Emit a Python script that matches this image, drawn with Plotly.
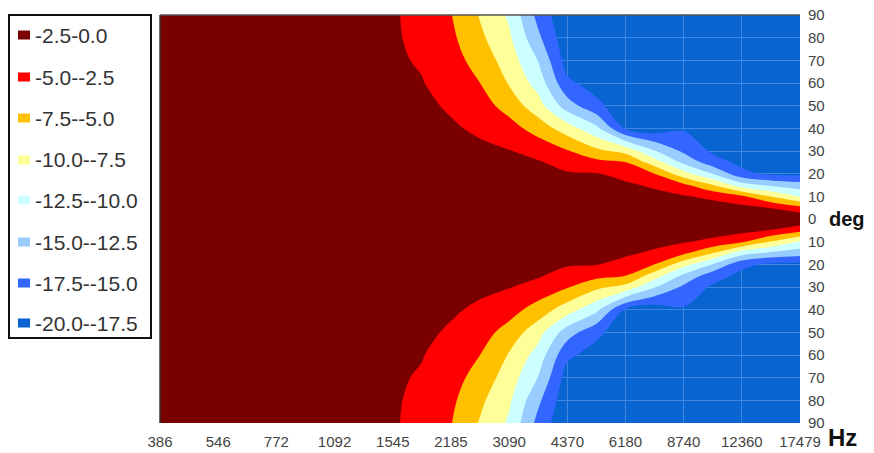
import plotly.graph_objects as go

# ---- data ----
freqs = [386, 546, 772, 1092, 1299, 1545, 1837, 2185, 2598, 3090, 3675,
         4370, 5197, 6180, 7350, 8740, 10394, 12360, 14698, 17479]
angles = [0, 5, 10, 15, 20, 25, 30, 40, 50, 60, 70, 80, 90]

# dB per frequency column, values listed for each angle in `angles`
col_386 = [0, -0.0, -0.1, -0.1, -0.2, -0.3, -0.4, -0.6, -0.8, -1.0, -1.2, -1.3, -1.4]
col_546 = [0, -0.1, -0.1, -0.2, -0.3, -0.4, -0.5, -0.7, -0.9, -1.1, -1.3, -1.5, -1.6]
col_772 = [0, -0.1, -0.2, -0.3, -0.4, -0.5, -0.6, -0.9, -1.1, -1.4, -1.6, -1.8, -1.9]
col_1092 = [0, -0.1, -0.2, -0.3, -0.5, -0.6, -0.8, -1.1, -1.4, -1.7, -1.9, -2.1, -2.2]
col_1299 = [0, -0.1, -0.2, -0.4, -0.6, -0.7, -0.9, -1.3, -1.6, -1.9, -2.1, -2.3, -2.4]
col_1545 = [0, -0.1, -0.2, -0.4, -0.6, -0.8, -1.0, -1.4, -1.7, -2.0, -2.2, -2.3, -2.3]
col_1837 = [0, -0.1, -0.3, -0.5, -0.7, -0.9, -1.1, -1.5, -2.0, -2.4, -2.7, -2.9, -3.1]
col_2185 = [0, -0.2, -0.4, -0.6, -0.9, -1.2, -1.5, -2.2, -2.8, -3.4, -4.0, -4.5, -4.9]
col_2598 = [0, -0.2, -0.5, -0.8, -1.1, -1.5, -2.0, -2.9, -3.9, -5.0, -6.0, -7.0, -7.7]
col_3090 = [0, -0.3, -0.7, -1.1, -1.5, -1.9, -2.4, -4.0, -6.0, -7.7, -8.7, -9.6, -10.4]
col_3675 = [0, -0.4, -0.8, -1.2, -1.7, -2.3, -3.3, -6.1, -9.0, -11.0, -12.6, -14.5, -15.8]
col_4370 = [0, -0.5, -1.1, -1.6, -2.3, -3.3, -4.8, -8.8, -13.8, -17.0, -18.6, -19.2, -19.7]
col_5197 = [0, -0.6, -1.2, -1.9, -2.4, -4.3, -6.9, -11.9, -16.9, -18.5, -19.2, -19.6, -19.8]
col_6180 = [0, -0.7, -1.4, -2.1, -3.3, -5.0, -8.3, -17.8, -19.0, -19.5, -19.7, -19.8, -19.9]
col_7350 = [0, -0.9, -1.8, -2.9, -5.0, -8.8, -12.3, -19.0, -19.5, -19.7, -19.8, -19.9, -19.9]
col_8740 = [0, -1.1, -2.3, -4.5, -9.0, -13.1, -15.5, -17.8, -19.0, -19.4, -19.6, -19.8, -19.9]
col_10394 = [0, -1.4, -3.1, -7.4, -12.6, -16.4, -17.9, -19.0, -19.4, -19.6, -19.7, -19.8, -19.9]
col_12360 = [0, -1.8, -4.6, -11.5, -16.8, -18.2, -18.8, -19.3, -19.5, -19.7, -19.8, -19.9, -19.9]
col_14698 = [0, -2.6, -7.6, -13.0, -18.0, -18.6, -19.0, -19.4, -19.6, -19.7, -19.8, -19.9, -19.9]
col_17479 = [0, -4.3, -10.2, -13.9, -18.2, -18.8, -19.2, -19.5, -19.7, -19.8, -19.9, -19.9, -19.9]

columns = [col_386, col_546, col_772, col_1092, col_1299, col_1545, col_1837,
           col_2185, col_2598, col_3090, col_3675, col_4370, col_5197, col_6180,
           col_7350, col_8740, col_10394, col_12360, col_14698, col_17479]

x_tick_vals = [386, 546, 772, 1092, 1545, 2185, 3090, 4370, 6180, 8740, 12360, 17479]
x_tick_text = ["386", "546", "772", "1092", "1545", "2185", "3090", "4370",
               "6180", "8740", "12360", "17479"]
y_tick_vals = list(range(-90, 91, 10))
y_tick_text = [str(abs(v)) for v in y_tick_vals]

legend_labels = ["-2.5-0.0", "-5.0--2.5", "-7.5--5.0", "-10.0--7.5",
                 "-12.5--10.0", "-15.0--12.5", "-17.5--15.0", "-20.0--17.5"]
band_colors = ["#7a0000", "#ff0000", "#ffc000", "#ffff99",
               "#ccffff", "#99ccff", "#3366ff", "#0864d0"]

# ---- build symmetric grid (angles -90..90) ----
full_angles = [-a for a in reversed(angles[1:])] + angles
z = []
for a in full_angles:
    i = angles.index(abs(a))
    z.append([col[i] for col in columns])

# stepped colorscale, lowest band transparent so the blue background + grid shows
bands_low_to_high = list(reversed(band_colors))
bands_low_to_high[0] = "rgba(0,0,0,0)"
cs = []
n = len(bands_low_to_high)
for i, c in enumerate(bands_low_to_high):
    cs.append([i / n, c])
    cs.append([(i + 1) / n, c])

fig = go.Figure()
fig.add_trace(go.Contour(
    x=freqs, y=full_angles, z=z,
    zmin=-20, zmax=0,
    contours=dict(start=-20, end=0, size=2.5, coloring="fill", showlines=False),
    line=dict(width=0),
    colorscale=cs, showscale=False, hoverinfo="skip", showlegend=False,
))

# ---- layout geometry (pixels) ----
W, H = 874, 453
L, R, T, B = 160, 74, 15, 30
PW, PH = W - L - R, H - T - B


def px_x(px):
    return (px - L) / PW


def px_y(py):
    return (H - B - py) / PH


shapes = [
    dict(type="line", xref="paper", yref="paper", x0=0, x1=1, y0=1, y1=1,
         line=dict(color="#555", width=1.5), layer="above"),
    dict(type="line", xref="paper", yref="paper", x0=0, x1=0, y0=0, y1=1,
         line=dict(color="#333", width=1.5), layer="above"),
    # legend box
    dict(type="rect", xref="paper", yref="paper",
         x0=px_x(9), x1=px_x(151), y0=px_y(338), y1=px_y(15),
         line=dict(color="#111", width=2), fillcolor="white", layer="above"),
]
annotations = []
legend_centers = [35, 77, 118, 160, 200, 242, 283, 323]
for lab, c, cy in zip(legend_labels, band_colors, legend_centers):
    shapes.append(dict(type="rect", xref="paper", yref="paper",
                       x0=px_x(18), x1=px_x(30), y0=px_y(cy + 4.5), y1=px_y(cy - 4.5),
                       line=dict(width=0), fillcolor=c, layer="above"))
    annotations.append(dict(text=lab, xref="paper", yref="paper",
                            x=px_x(33), y=px_y(cy), xanchor="left", yanchor="middle",
                            showarrow=False, font=dict(size=21, color="#333")))

annotations += [
    dict(text="<b>deg</b>", xref="paper", yref="y", x=px_x(827), y=0,
         xanchor="left", yanchor="middle", showarrow=False,
         font=dict(size=20, color="#111")),
    dict(text="<b>Hz</b>", xref="paper", yref="paper", x=px_x(826), y=px_y(437),
         xanchor="left", yanchor="middle", showarrow=False,
         font=dict(size=24, color="#111")),
]

fig.update_layout(
    width=W, height=H,
    margin=dict(l=L, r=R, t=T, b=B, autoexpand=False),
    paper_bgcolor="white",
    plot_bgcolor="#0864d0",
    font=dict(family="Liberation Sans, Arial, sans-serif", color="#333"),
    showlegend=False,
    xaxis=dict(
        type="log", range=[2.58659, 4.24252],
        tickvals=x_tick_vals, ticktext=x_tick_text,
        tickfont=dict(size=15, color="#444"),
        showgrid=True, gridcolor="#3f86e2", gridwidth=1,
        zeroline=False, ticks="", showline=False,
        ticklabelstandoff=8, automargin=False,
    ),
    yaxis=dict(
        range=[-90, 90], side="right",
        tickvals=y_tick_vals, ticktext=y_tick_text,
        tickfont=dict(size=15, color="#444"),
        showgrid=True, gridcolor="#3f86e2", gridwidth=1,
        zeroline=False, ticks="", showline=False,
        ticklabelstandoff=7, automargin=False,
    ),
    shapes=shapes,
    annotations=annotations,
)

fig.write_html("out.html", config={"displayModeBar": False},
               post_script="document.body.style.margin='0px';")
